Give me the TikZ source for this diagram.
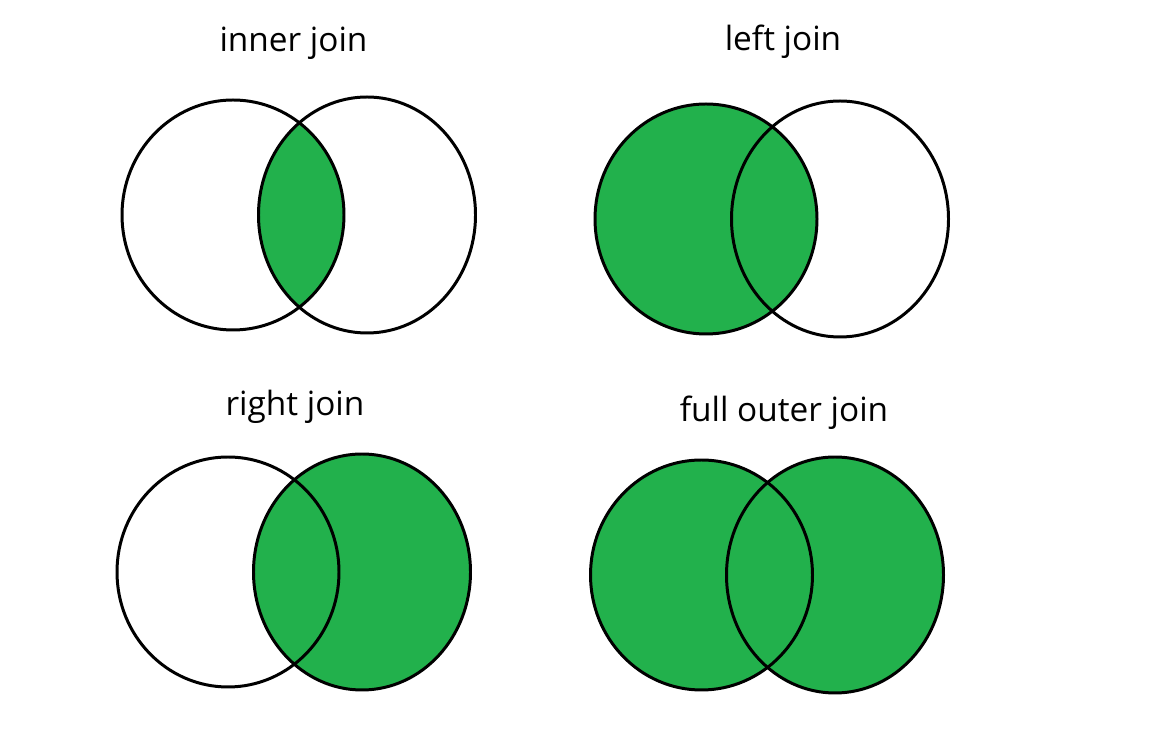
\documentclass[tikz,border=0pt]{standalone}
\usepackage{fontspec}
\setmainfont{Open Sans}
\usetikzlibrary{positioning}
\definecolor{joingreen}{HTML}{22B14C}

\begin{document}
\begin{tikzpicture}[x=0.02cm,y=-0.02cm,
    venn/.style={line width=1.7pt},
    title/.style={anchor=base,font=\fontsize{19}{23}\selectfont}]
  \useasboundingbox (0,0) rectangle (1160,732);

  % inner join
  \begin{scope}
    \clip (233,215) ellipse [x radius=111,y radius=115];
    \fill[joingreen] (367,215) ellipse [x radius=108.5,y radius=118];
  \end{scope}
  \draw[venn] (233,215) ellipse [x radius=111,y radius=115];
  \draw[venn] (367,215) ellipse [x radius=108.5,y radius=118];
  \node[title] (inner) at (293.5,52) {inner join};

  % left join
  \fill[joingreen] (706,219) ellipse [x radius=111,y radius=115];
  \draw[venn] (706,219) ellipse [x radius=111,y radius=115];
  \draw[venn] (840,219) ellipse [x radius=108.5,y radius=118];
  \node[title] (left) at (783,51) {left join};

  % right join
  \fill[joingreen] (362,572) ellipse [x radius=108.5,y radius=118];
  \draw[venn] (228,572) ellipse [x radius=111,y radius=115];
  \draw[venn] (362,572) ellipse [x radius=108.5,y radius=118];
  \node[title] (right) at (295,416) {right join};

  % full outer join
  \fill[joingreen] (701.5,575) ellipse [x radius=111,y radius=115];
  \fill[joingreen] (835,575) ellipse [x radius=108.5,y radius=118];
  \draw[venn] (701.5,575) ellipse [x radius=111,y radius=115];
  \draw[venn] (835,575) ellipse [x radius=108.5,y radius=118];
  \node[title] (full) at (784,421.5) {full outer join};
\end{tikzpicture}
\end{document}
